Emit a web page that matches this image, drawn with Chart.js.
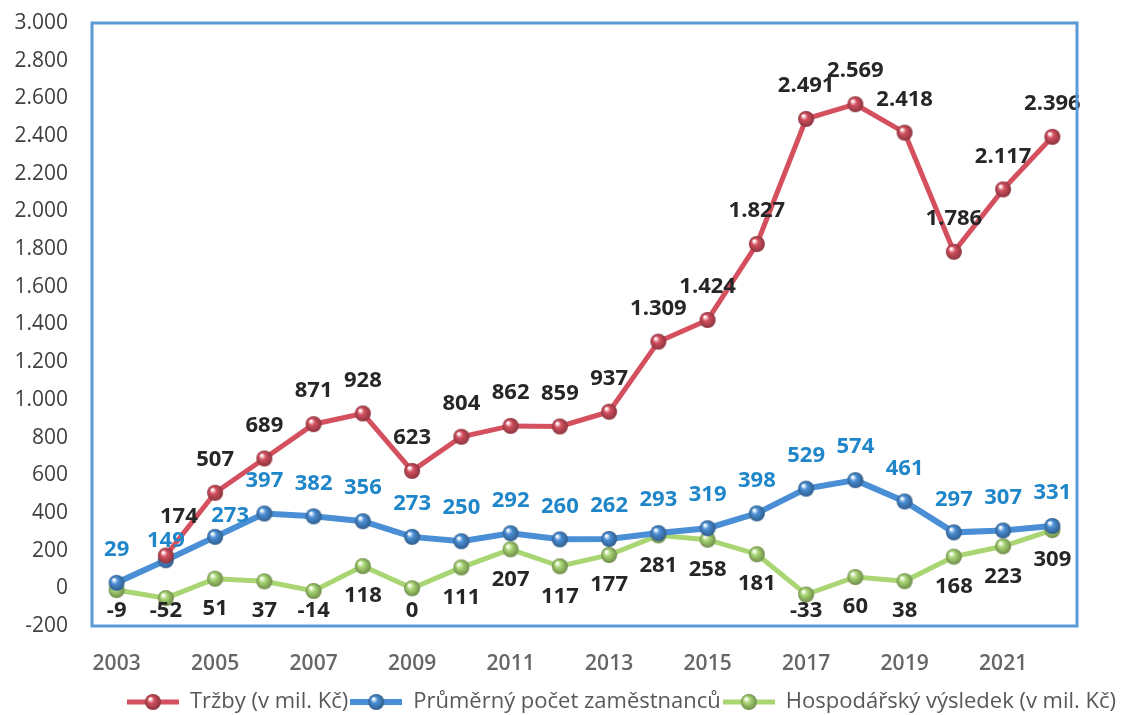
<!DOCTYPE html>
<html>
<head>
<meta charset="utf-8">
<script src="https://cdn.jsdelivr.net/npm/chart.js@4.4.1/dist/chart.umd.min.js"></script>
<style>
  html, body { margin: 0; padding: 0; background: #fff; }
  #wrap { width: 1131px; height: 715px; position: relative; }
</style>
</head>
<body>
<div id="wrap"><canvas id="chart"></canvas></div>
<script>
Chart.defaults.font.family = "'Open Sans', 'DejaVu Sans', sans-serif";

const years = ['2003','2004','2005','2006','2007','2008','2009','2010','2011','2012',
  '2013','2014','2015','2016','2017','2018','2019','2020','2021','2022'];
const trzby = [null,174,507,689,871,928,623,804,862,859,937,1309,1424,1827,2491,2569,2418,1786,2117,2396];
const zamestnanci = [29,149,273,397,382,356,273,250,292,260,262,293,319,398,529,574,461,297,307,331];
const vysledek = [-9,-52,51,37,-14,118,0,111,207,117,177,281,258,181,-33,60,38,168,223,309];
const yMin = -200, yMax = 3000, yStep = 200;

const COLORS = {
  red: '#d4505f',
  blue: '#4a8fd6',
  green: '#a9d673',
  border: '#5b9bd5',
  blueText: '#1f86c9',
  text: '#262626',
};

// cz thousands: 2.569
function fmt(n) {
  const s = Math.abs(n).toString().replace(/\B(?=(\d{3})+(?!\d))/g, '.');
  return (n < 0 ? '-' : '') + s;
}

// shaded ball marker
function sphere(color, r) {
  const c = document.createElement('canvas');
  c.width = c.height = r * 2 + 2;
  const g = c.getContext('2d');
  const cx = r + 1, cy = r + 1;
  const grad = g.createRadialGradient(cx - r * 0.35, cy - r * 0.4, r * 0.1, cx, cy, r);
  grad.addColorStop(0, '#ffffff');
  grad.addColorStop(0.35, color);
  grad.addColorStop(1, shade(color, -0.35));
  g.fillStyle = grad;
  g.beginPath();
  g.arc(cx, cy, r, 0, Math.PI * 2);
  g.fill();
  return c;
}

function shade(hex, p) {
  const n = parseInt(hex.slice(1), 16);
  let r = n >> 16, gg = (n >> 8) & 255, b = n & 255;
  r = Math.round(r * (1 + p)); gg = Math.round(gg * (1 + p)); b = Math.round(b * (1 + p));
  return 'rgb(' + r + ',' + gg + ',' + b + ')';
}

function legendIcon(color, lw) {
  const c = document.createElement('canvas');
  c.width = 52; c.height = 18;
  const g = c.getContext('2d');
  g.strokeStyle = color;
  g.lineWidth = lw;
  g.beginPath();
  g.moveTo(0, 9); g.lineTo(52, 9);
  g.stroke();
  g.drawImage(sphere(color, 8), 26 - 9, 0);
  return c;
}

const SERIES = [
  { label: 'Tržby (v mil. Kč)', data: trzby, color: COLORS.red, width: 5, text: COLORS.text, dy: -33 },
  { label: 'Průměrný počet zaměstnanců', data: zamestnanci, color: COLORS.blue, width: 6, text: COLORS.blueText, dy: -33 },
  { label: 'Hospodářský výsledek (v mil. Kč)', data: vysledek, color: COLORS.green, width: 5, text: COLORS.text, dy: 30 },
];

// a few labels sit elsewhere in the original (series:index -> [dx, dy])
const NUDGE = {
  '0:1': [13, -6],
  '1:1': [0, 13],
  '1:2': [15, 12],
};

// frame round the plot area
const frame = {
  id: 'frame',
  afterDraw(chart) {
    const { ctx, chartArea: a } = chart;
    ctx.save();
    ctx.strokeStyle = COLORS.border;
    ctx.lineWidth = 3;
    ctx.strokeRect(a.left, a.top, a.right - a.left, a.bottom - a.top);
    ctx.restore();
  }
};

// legend in the original sits further right and lower
const legendShift = {
  id: 'legendShift',
  afterLayout(chart) {
    const lg = chart.legend;
    lg.left += 83; lg.right += 83;
    lg.top += 8; lg.bottom += 8;
  }
};

// value labels
const valueLabels = {
  id: 'valueLabels',
  afterDatasetsDraw(chart) {
    const ctx = chart.ctx;
    const bottom = chart.chartArea.bottom - 15;
    ctx.save();
    ctx.font = "bold 22px 'Open Sans', sans-serif";
    ctx.textAlign = 'center';
    ctx.textBaseline = 'middle';
    chart.data.datasets.forEach((ds, i) => {
      const s = SERIES[i];
      chart.getDatasetMeta(i).data.forEach((pt, j) => {
        const v = ds.data[j];
        if (v === null || v === undefined) return;
        const n = NUDGE[i + ':' + j] || [0, 0];
        const y = Math.min(pt.y + s.dy + n[1], bottom);
        ctx.fillStyle = s.text;
        ctx.fillText(fmt(v), pt.x + n[0], y);
      });
    });
    ctx.restore();
  }
};

new Chart(document.getElementById('chart'), {
  type: 'line',
  data: {
    labels: years,
    datasets: SERIES.map(s => ({
      label: s.label,
      data: s.data,
      borderColor: s.color,
      backgroundColor: s.color,
      borderWidth: s.width,
      pointStyle: sphere(s.color, 8),
      pointRadius: 8,
      tension: 0,
      spanGaps: false,
    }))
  },
  options: {
    responsive: true,
    maintainAspectRatio: false,
    animation: false,
    layout: { padding: { top: 23, right: 54, bottom: 0, left: 0 } },
    plugins: {
      tooltip: { enabled: false },
      legend: {
        position: 'bottom',
        labels: {
          color: '#595959',
          font: { size: 22 },
          usePointStyle: true,
          pointStyleWidth: 52,
          boxHeight: 18,
          padding: 2,
          generateLabels: chart => SERIES.map((s, i) => ({
            text: s.label,
            fillStyle: s.color,
            strokeStyle: s.color,
            lineWidth: 0,
            pointStyle: legendIcon(s.color, s.width),
            hidden: false,
            datasetIndex: i,
            fontColor: '#595959',
          }))
        }
      }
    },
    scales: {
      x: {
        offset: true,
        grid: { display: false, drawTicks: false },
        border: { display: false },
        afterFit: scale => { scale.height = 55; },
        ticks: {
          autoSkip: false,
          maxRotation: 0,
          padding: 25,
          color: '#666',
          font: { size: 21, weight: '600' },
          callback: (v, i) => i % 2 === 0 ? years[i] : '',
        }
      },
      y: {
        min: yMin,
        max: yMax,
        grid: { display: false, drawTicks: false },
        border: { display: false },
        afterFit: scale => {
          scale.width = 92;
          scale.paddingTop = 0;
          scale.paddingBottom = 0;
        },
        ticks: {
          stepSize: yStep,
          padding: 24,
          color: '#404040',
          font: { size: 21 },
          callback: v => fmt(v),
        }
      }
    }
  },
  plugins: [frame, legendShift, valueLabels]
});
</script>
</body>
</html>
